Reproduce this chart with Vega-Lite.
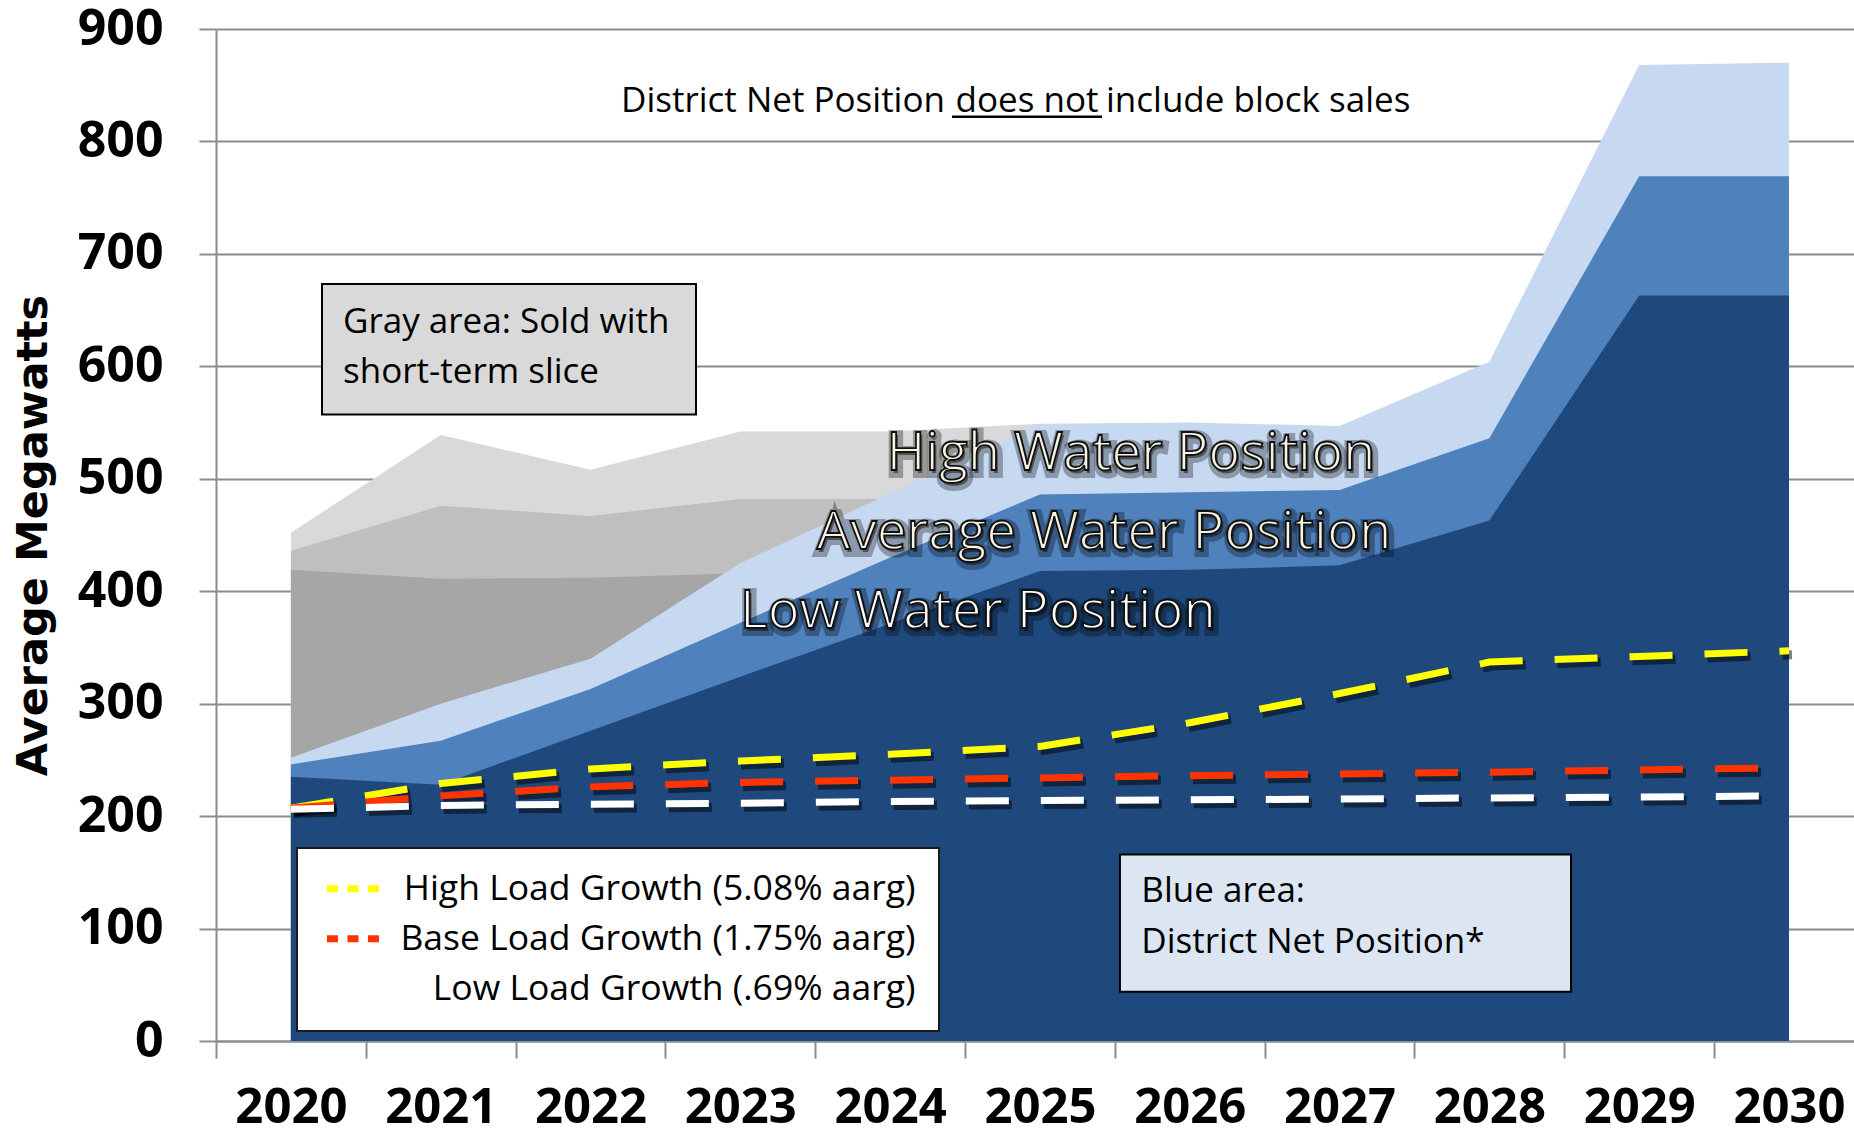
{
  "$schema": "https://vega.github.io/schema/vega-lite/v6.json",
  "width": 1638,
  "height": 1012,
  "autosize": {"type": "none"},
  "padding": {"left": 216, "top": 29, "right": 0, "bottom": 97},
  "background": "#FFFFFF",
  "config": {"view": {"stroke": null}, "font": "Open Sans"},
  "datasets": {
    "positions": [
      {"year": 2020, "high": 252, "avg": 246, "low": 235, "g1": 452, "g2": 436, "g3": 419},
      {"year": 2021, "high": 300, "avg": 267, "low": 228, "g1": 539, "g2": 476, "g3": 411},
      {"year": 2022, "high": 340, "avg": 313, "low": 276, "g1": 508, "g2": 467, "g3": 412},
      {"year": 2023, "high": 425, "avg": 372, "low": 324, "g1": 542, "g2": 482, "g3": 416},
      {"year": 2024, "high": 487, "avg": 430, "low": 371, "g1": 542, "g2": 482, "g3": 418},
      {"year": 2025, "high": 549, "avg": 486, "low": 418, "g1": 549, "g2": 486, "g3": 418},
      {"year": 2026, "high": 550, "avg": 488, "low": 419},
      {"year": 2027, "high": 547, "avg": 490, "low": 423},
      {"year": 2028, "high": 604, "avg": 536, "low": 463},
      {"year": 2029, "high": 868, "avg": 769, "low": 663},
      {"year": 2030, "high": 870, "avg": 769, "low": 663}
    ],
    "loads": [
      {"year": 2020, "series": "High Load Growth (5.08% aarg)", "value": 207},
      {"year": 2021, "series": "High Load Growth (5.08% aarg)", "value": 229},
      {"year": 2022, "series": "High Load Growth (5.08% aarg)", "value": 242},
      {"year": 2023, "series": "High Load Growth (5.08% aarg)", "value": 249},
      {"year": 2024, "series": "High Load Growth (5.08% aarg)", "value": 255},
      {"year": 2025, "series": "High Load Growth (5.08% aarg)", "value": 262},
      {"year": 2026, "series": "High Load Growth (5.08% aarg)", "value": 283},
      {"year": 2027, "series": "High Load Growth (5.08% aarg)", "value": 309},
      {"year": 2028, "series": "High Load Growth (5.08% aarg)", "value": 337},
      {"year": 2029, "series": "High Load Growth (5.08% aarg)", "value": 342},
      {"year": 2030, "series": "High Load Growth (5.08% aarg)", "value": 347},
      {"year": 2020, "series": "Base Load Growth (1.75% aarg)", "value": 207},
      {"year": 2021, "series": "Base Load Growth (1.75% aarg)", "value": 218},
      {"year": 2022, "series": "Base Load Growth (1.75% aarg)", "value": 226},
      {"year": 2023, "series": "Base Load Growth (1.75% aarg)", "value": 230},
      {"year": 2024, "series": "Base Load Growth (1.75% aarg)", "value": 232},
      {"year": 2025, "series": "Base Load Growth (1.75% aarg)", "value": 234},
      {"year": 2026, "series": "Base Load Growth (1.75% aarg)", "value": 236},
      {"year": 2027, "series": "Base Load Growth (1.75% aarg)", "value": 237.5},
      {"year": 2028, "series": "Base Load Growth (1.75% aarg)", "value": 239},
      {"year": 2029, "series": "Base Load Growth (1.75% aarg)", "value": 241},
      {"year": 2030, "series": "Base Load Growth (1.75% aarg)", "value": 243},
      {"year": 2020, "series": "Low Load Growth (.69% aarg)", "value": 206},
      {"year": 2021, "series": "Low Load Growth (.69% aarg)", "value": 209.5},
      {"year": 2022, "series": "Low Load Growth (.69% aarg)", "value": 210.5},
      {"year": 2023, "series": "Low Load Growth (.69% aarg)", "value": 211.5},
      {"year": 2024, "series": "Low Load Growth (.69% aarg)", "value": 213},
      {"year": 2025, "series": "Low Load Growth (.69% aarg)", "value": 213.8},
      {"year": 2026, "series": "Low Load Growth (.69% aarg)", "value": 214.5},
      {"year": 2027, "series": "Low Load Growth (.69% aarg)", "value": 215.2},
      {"year": 2028, "series": "Low Load Growth (.69% aarg)", "value": 216.2},
      {"year": 2029, "series": "Low Load Growth (.69% aarg)", "value": 217},
      {"year": 2030, "series": "Low Load Growth (.69% aarg)", "value": 218}
    ]
  },
  "layer": [
    {
      "data": {"name": "positions"},
      "mark": {"type": "area", "color": "#D9D9D9"},
      "encoding": {
        "x": {"field": "year", "type": "quantitative",
          "scale": {"domain": [2019.5, 2030.434], "nice": false, "zero": false},
          "axis": {"values": [2020, 2021, 2022, 2023, 2024, 2025, 2026, 2027, 2028, 2029, 2030], "format": "d", "title": null,
            "grid": false, "tickOffset": -74.9, "labelOffset": 74.9, "labelFlush": false, "labelOverlap": false, "labelBound": false,
            "labelFont": "Open Sans", "labelFontWeight": "bold", "labelFontSize": 49, "labelColor": "#000000", "labelPadding": 25,
            "tickSize": 17, "tickColor": "#8C8C8C", "tickWidth": 2, "domainColor": "#8C8C8C", "domainWidth": 2}},
        "y": {"field": "g1", "type": "quantitative",
          "scale": {"domain": [0, 900], "nice": false, "zero": true},
          "axis": {"values": [0, 100, 200, 300, 400, 500, 600, 700, 800, 900], "title": "Average Megawatts",
            "titleFont": "DejaVu Sans", "titleFontWeight": "bold", "titleFontSize": 43, "titleColor": "#000000", "titlePadding": 22,
            "labelFont": "Open Sans", "labelFontWeight": "bold", "labelFontSize": 50, "labelColor": "#000000", "labelPadding": 36,
            "labelOverlap": false, "labelFlush": false, "labelBound": false,
            "tickSize": 17, "tickColor": "#8C8C8C", "tickWidth": 2, "domainColor": "#8C8C8C", "domainWidth": 2,
            "grid": true, "gridColor": "#8C8C8C", "gridWidth": 2}}
      }
    },
    {
      "data": {"name": "positions"},
      "mark": {"type": "area", "color": "#BFBFBF"},
      "encoding": {"x": {"field": "year", "type": "quantitative"}, "y": {"field": "g2", "type": "quantitative"}}
    },
    {
      "data": {"name": "positions"},
      "mark": {"type": "area", "color": "#A6A6A6"},
      "encoding": {"x": {"field": "year", "type": "quantitative"}, "y": {"field": "g3", "type": "quantitative"}}
    },
    {
      "data": {"name": "positions"},
      "mark": {"type": "area", "color": "#C6D9F1"},
      "encoding": {"x": {"field": "year", "type": "quantitative"}, "y": {"field": "high", "type": "quantitative"}}
    },
    {
      "data": {"name": "positions"},
      "mark": {"type": "area", "color": "#4F81BD"},
      "encoding": {"x": {"field": "year", "type": "quantitative"}, "y": {"field": "avg", "type": "quantitative"}}
    },
    {
      "data": {"name": "positions"},
      "mark": {"type": "area", "color": "#1F497D"},
      "encoding": {"x": {"field": "year", "type": "quantitative"}, "y": {"field": "low", "type": "quantitative"}}
    },
    {
      "data": {"name": "loads"},
      "mark": {"type": "line", "color": "#000000", "opacity": 0.5, "strokeWidth": 9, "strokeDash": [43, 32], "strokeCap": "butt", "xOffset": 3, "yOffset": 4},
      "encoding": {"x": {"field": "year", "type": "quantitative"}, "y": {"field": "value", "type": "quantitative"}, "detail": {"field": "series", "type": "nominal"}}
    },
    {
      "data": {"name": "loads"},
      "mark": {"type": "line", "strokeWidth": 7, "strokeDash": [43, 32], "strokeCap": "butt"},
      "encoding": {
        "x": {"field": "year", "type": "quantitative"},
        "y": {"field": "value", "type": "quantitative"},
        "color": {"field": "series", "type": "nominal",
          "scale": {"domain": ["High Load Growth (5.08% aarg)", "Base Load Growth (1.75% aarg)", "Low Load Growth (.69% aarg)"], "range": ["#FFFF00", "#FF3300", "#FFFFFF"]},
          "legend": {"orient": "none", "legendX": 81, "legendY": 819, "title": null,
            "symbolType": "M-1.2,0H4.8", "symbolSize": 324, "symbolStrokeWidth": 7, "symbolDash": [11, 9.5],
            "labelFont": "Open Sans", "labelFontSize": 35.5, "labelColor": "#000000", "labelAlign": "right", "labelOffset": 560, "labelLimit": 1000,
            "rowPadding": 13, "padding": 23, "fillColor": "#FFFFFF", "strokeColor": "#1A1A1A",
            "encode": {"legend": {"update": {"strokeWidth": {"value": 2}}}}}}
      }
    },
    {
      "data": {"values": [{}]},
      "mark": {"type": "rect", "fill": "#D9D9D9", "stroke": "#000000", "strokeWidth": 2},
      "encoding": {"x": {"datum": 2020.2076, "type": "quantitative"}, "x2": {"datum": 2022.704},
        "y": {"datum": 673.2, "type": "quantitative"}, "y2": {"datum": 557.2}}
    },
    {
      "data": {"values": [{}]},
      "mark": {"type": "text", "text": "Gray area: Sold with", "font": "Open Sans", "fontSize": 35, "color": "#000000", "align": "left", "baseline": "alphabetic"},
      "encoding": {"x": {"datum": 2020.348, "type": "quantitative"}, "y": {"datum": 629.6, "type": "quantitative"}}
    },
    {
      "data": {"values": [{}]},
      "mark": {"type": "text", "text": "short-term slice", "font": "Open Sans", "fontSize": 35, "color": "#000000", "align": "left", "baseline": "alphabetic"},
      "encoding": {"x": {"datum": 2020.348, "type": "quantitative"}, "y": {"datum": 585.4, "type": "quantitative"}}
    },
    {
      "data": {"values": [{}]},
      "mark": {"type": "rect", "fill": "#DCE6F2", "stroke": "#000000", "strokeWidth": 2},
      "encoding": {"x": {"datum": 2025.534, "type": "quantitative"}, "x2": {"datum": 2028.545},
        "y": {"datum": 165.9, "type": "quantitative"}, "y2": {"datum": 43.85}}
    },
    {
      "data": {"values": [{}]},
      "mark": {"type": "text", "text": "Blue area:", "font": "Open Sans", "fontSize": 35, "color": "#000000", "align": "left", "baseline": "alphabetic"},
      "encoding": {"x": {"datum": 2025.677, "type": "quantitative"}, "y": {"datum": 123.2, "type": "quantitative"}}
    },
    {
      "data": {"values": [{}]},
      "mark": {"type": "text", "text": "District Net Position*", "font": "Open Sans", "fontSize": 35, "color": "#000000", "align": "left", "baseline": "alphabetic"},
      "encoding": {"x": {"datum": 2025.677, "type": "quantitative"}, "y": {"datum": 78.3, "type": "quantitative"}}
    },
    {
      "data": {"values": [{}]},
      "mark": {"type": "text", "text": "District Net Position", "font": "Open Sans", "fontSize": 35, "color": "#000000", "align": "right", "baseline": "alphabetic"},
      "encoding": {"x": {"datum": 2024.366, "type": "quantitative"}, "y": {"datum": 826.45, "type": "quantitative"}}
    },
    {
      "data": {"values": [{}]},
      "mark": {"type": "text", "text": "does not", "font": "Open Sans", "fontSize": 35, "color": "#000000", "align": "center", "baseline": "alphabetic"},
      "encoding": {"x": {"datum": 2024.9135, "type": "quantitative"}, "y": {"datum": 826.45, "type": "quantitative"}}
    },
    {
      "data": {"values": [{}]},
      "mark": {"type": "rule", "color": "#000000", "strokeWidth": 2.5},
      "encoding": {"x": {"datum": 2024.413, "type": "quantitative"}, "x2": {"datum": 2025.414},
        "y": {"datum": 822.0, "type": "quantitative"}}
    },
    {
      "data": {"values": [{}]},
      "mark": {"type": "text", "text": "include block sales", "font": "Open Sans", "fontSize": 35, "color": "#000000", "align": "left", "baseline": "alphabetic"},
      "encoding": {"x": {"datum": 2025.441, "type": "quantitative"}, "y": {"datum": 826.45, "type": "quantitative"}}
    },
    {
      "data": {"values": [{}]},
      "mark": {"type": "text", "text": "High Water Position", "font": "Open Sans", "fontSize": 53, "fill": "#000000", "fillOpacity": 0.45, "stroke": "#000000", "strokeWidth": 10, "strokeOpacity": 0.3, "align": "center", "baseline": "alphabetic", "dx": 2, "dy": 3},
      "encoding": {"x": {"datum": 2025.608, "type": "quantitative"}, "y": {"datum": 507.8, "type": "quantitative"}}
    },
    {
      "data": {"values": [{}]},
      "mark": {"type": "text", "text": "High Water Position", "font": "Open Sans", "fontSize": 53, "fill": "#F7F4E4", "stroke": "#111111", "strokeWidth": 1.8, "align": "center", "baseline": "alphabetic"},
      "encoding": {"x": {"datum": 2025.608, "type": "quantitative"}, "y": {"datum": 507.8, "type": "quantitative"}}
    },
    {
      "data": {"values": [{}]},
      "mark": {"type": "text", "text": "Average Water Position", "font": "Open Sans", "fontSize": 53, "fill": "#000000", "fillOpacity": 0.45, "stroke": "#000000", "strokeWidth": 10, "strokeOpacity": 0.3, "align": "center", "baseline": "alphabetic", "dx": 2, "dy": 3},
      "encoding": {"x": {"datum": 2025.428, "type": "quantitative"}, "y": {"datum": 437.5, "type": "quantitative"}}
    },
    {
      "data": {"values": [{}]},
      "mark": {"type": "text", "text": "Average Water Position", "font": "Open Sans", "fontSize": 53, "fill": "#F7F4E4", "stroke": "#111111", "strokeWidth": 1.8, "align": "center", "baseline": "alphabetic"},
      "encoding": {"x": {"datum": 2025.428, "type": "quantitative"}, "y": {"datum": 437.5, "type": "quantitative"}}
    },
    {
      "data": {"values": [{}]},
      "mark": {"type": "text", "text": "Low Water Position", "font": "Open Sans", "fontSize": 53, "fill": "#000000", "fillOpacity": 0.45, "stroke": "#000000", "strokeWidth": 10, "strokeOpacity": 0.3, "align": "center", "baseline": "alphabetic", "dx": 2, "dy": 3},
      "encoding": {"x": {"datum": 2024.586, "type": "quantitative"}, "y": {"datum": 367.3, "type": "quantitative"}}
    },
    {
      "data": {"values": [{}]},
      "mark": {"type": "text", "text": "Low Water Position", "font": "Open Sans", "fontSize": 53, "fill": "#FFFFFF", "stroke": "#111111", "strokeWidth": 1.8, "align": "center", "baseline": "alphabetic"},
      "encoding": {"x": {"datum": 2024.586, "type": "quantitative"}, "y": {"datum": 367.3, "type": "quantitative"}}
    }
  ]
}
